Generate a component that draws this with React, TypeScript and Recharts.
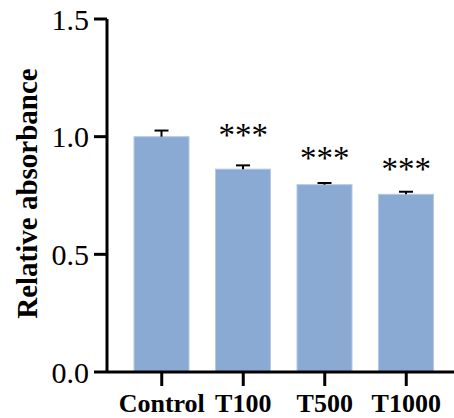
import React from "react";
import { ComposedChart, Bar, Line, XAxis, YAxis, Label } from "recharts";

const categories = ["Control", "T100", "T500", "T1000"];
const means = [1.0, 0.862, 0.796, 0.755];
const errors = [0.026, 0.016, 0.007, 0.011];
const starLabels = ["", "***", "***", "***"];
const starPositions: (number | null)[] = [null, 0.962, 0.862, 0.814];
const yTicks = [0, 0.5, 1.0, 1.5];

const data = categories.map((c, i) => ({
  name: c,
  value: means[i],
  err: errors[i],
  star: starPositions[i],
  starText: starLabels[i],
}));

const FONT = "'Liberation Serif', 'Times New Roman', serif";

const BarShape = (props: any) => {
  const { x, y, width, height, payload } = props;
  const pxPerUnit = height / payload.value;
  const errPx = payload.err * pxPerUnit;
  const cx = x + width / 2;
  const top = y - errPx;
  return (
    <g>
      <rect x={x} y={y} width={width} height={height} fill="#8BAAD3" stroke="#B3C9E6" strokeWidth={1} />
      <line x1={cx} y1={y} x2={cx} y2={top} stroke="#000" strokeWidth={2} />
      <line x1={cx - 7} y1={top} x2={cx + 7} y2={top} stroke="#000" strokeWidth={2} />
    </g>
  );
};

const StarDot = (props: any) => {
  const { cx, cy, payload, index } = props;
  if (payload == null || payload.star == null || cy == null) return <g key={`s${index}`} />;
  return (
    <text
      key={`s${index}`}
      x={cx}
      y={cy}
      textAnchor="middle"
      fontFamily={FONT}
      fontSize={33}
      fill="#000"
    >
      {payload.starText}
    </text>
  );
};

const YLabel = (props: any) => {
  const { viewBox } = props;
  const cy = viewBox.y + viewBox.height / 2 - 2;
  const cx = 27;
  return (
    <text
      x={cx}
      y={cy}
      textAnchor="middle"
      dominantBaseline="central"
      transform={`rotate(-90, ${cx}, ${cy})`}
      fontFamily={FONT}
      fontWeight="bold"
      fontSize={29}
      fill="#000"
    >
      Relative absorbance
    </text>
  );
};

export default function App() {
  return (
    <div style={{ position: "absolute", left: 0, top: 0, width: 454, height: 418, background: "#fff" }}>
      <ComposedChart
        width={454}
        height={418}
        data={data}
        margin={{ top: 19, right: 0, bottom: 0, left: 0 }}
      >
        <XAxis
          dataKey="name"
          height={46}
          padding={{ left: 14, right: 7 }}
          axisLine={{ stroke: "#000", strokeWidth: 3 }}
          tickLine={{ stroke: "#000", strokeWidth: 3 }}
          tickSize={14}
          tickMargin={8}
          interval={0}
          tick={{ fill: "#000", fontFamily: FONT, fontWeight: "bold", fontSize: 26 }}
        />
        <YAxis
          width={107}
          domain={[0, 1.5]}
          ticks={yTicks}
          allowDataOverflow
          tickFormatter={(v: number) => v.toFixed(1)}
          axisLine={{ stroke: "#000", strokeWidth: 3 }}
          tickLine={{ stroke: "#000", strokeWidth: 3 }}
          tickSize={13}
          tickMargin={5}
          tick={{ fill: "#000", fontFamily: FONT, fontSize: 30 }}
        >
          <Label content={<YLabel />} />
        </YAxis>
        <Bar dataKey="value" barSize={55} shape={<BarShape />} isAnimationActive={false} />
        <Line
          dataKey="star"
          stroke="none"
          dot={<StarDot />}
          activeDot={false}
          connectNulls={false}
          isAnimationActive={false}
        />
      </ComposedChart>
    </div>
  );
}
